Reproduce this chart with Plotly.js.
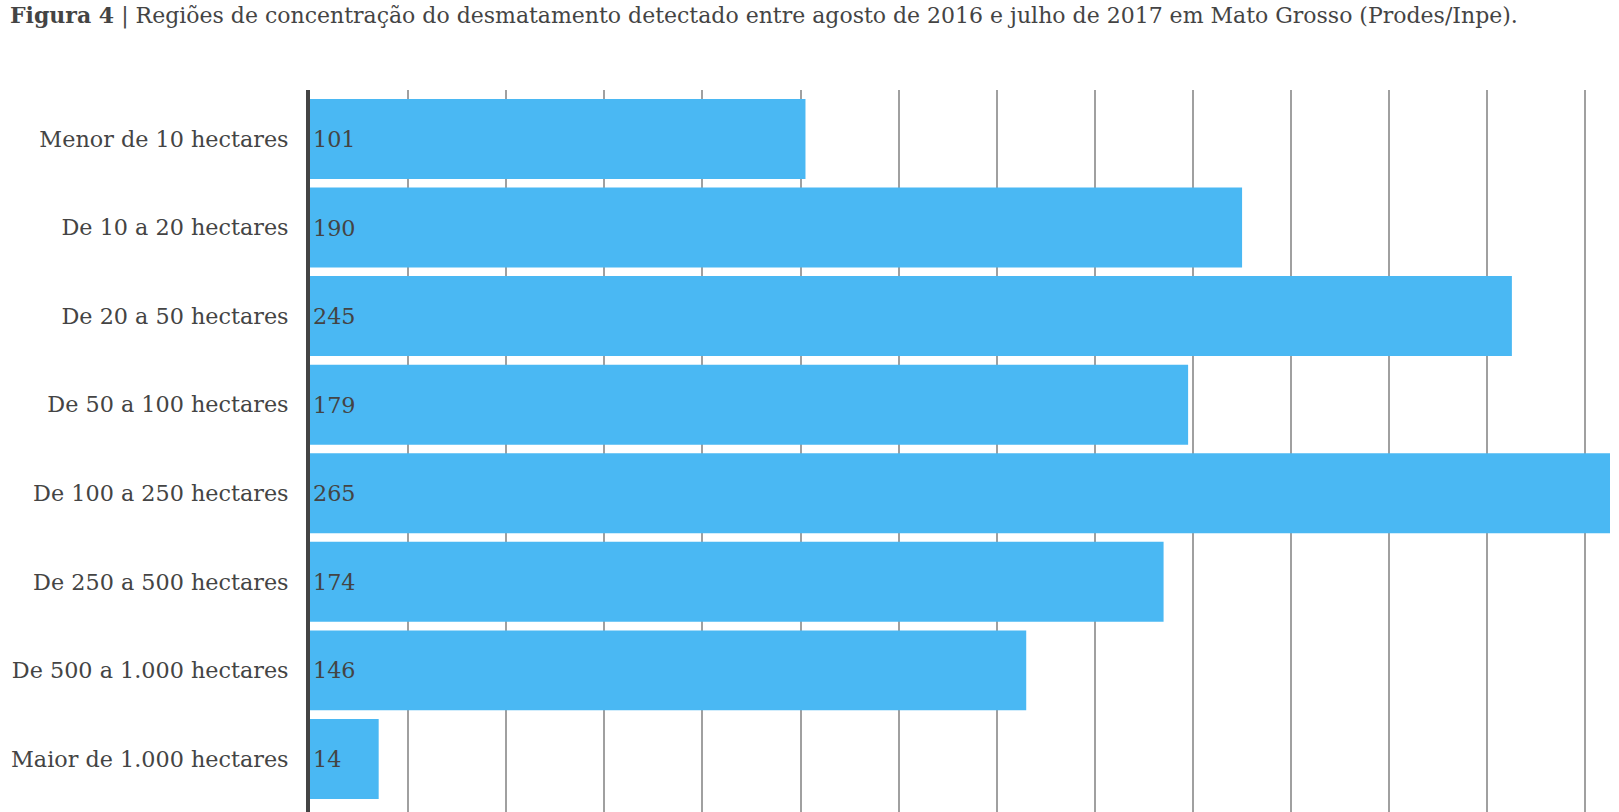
<!DOCTYPE html>
<html>
<head>
<meta charset="utf-8">
<script src="https://cdn.plot.ly/plotly-3.0.1.min.js"></script>
<style>html,body{margin:0;padding:0;background:#fff;}#chart{width:1619px;height:812px;}</style>
</head>
<body>
<div id="chart"></div>
<script>
var categories = ["Menor de 10 hectares","De 10 a 20 hectares","De 20 a 50 hectares","De 50 a 100 hectares","De 100 a 250 hectares","De 250 a 500 hectares","De 500 a 1.000 hectares","Maior de 1.000 hectares"];
var values = [101,190,245,179,265,174,146,14];
var gridTicks = [20,40,60,80,100,120,140,160,180,200,220,240,260];
var titleText = "<b>Figura 4</b> | Regiões de concentração do desmatamento detectado entre agosto de 2016 e julho de 2017 em Mato Grosso (Prodes/Inpe).";

var FONT = "DejaVu Serif, serif";
var trace = {
  type: "bar",
  orientation: "h",
  y: categories,
  x: values,
  text: values.map(String),
  textposition: "inside",
  insidetextanchor: "start",
  constraintext: "none",
  textfont: {family: FONT, size: 22.3, color: "#444"},
  marker: {color: "#4ab8f3", line: {width: 0}},
  hoverinfo: "none"
};
var layout = {
  width: 1619, height: 812,
  margin: {l: 310, r: 9, t: 90, b: 0},
  paper_bgcolor: "#fff", plot_bgcolor: "#fff",
  bargap: 0.097,
  showlegend: false,
  font: {family: FONT, color: "#444"},
  title: {
    text: titleText,
    font: {family: FONT, size: 22, color: "#444"},
    xref: "container", yref: "container",
    x: 10/1619, xanchor: "left",
    y: 1 - 15/812, yanchor: "middle"
  },
  xaxis: {
    range: [0, 265],
    tickvals: gridTicks,
    showticklabels: false,
    showgrid: true, gridcolor: "#a0a0a0", gridwidth: 2,
    zeroline: false, showline: false, ticks: ""
  },
  yaxis: {
    type: "category",
    range: [7.599, -0.553],
    showgrid: false, zeroline: false,
    showline: true, linecolor: "#444", linewidth: 4,
    ticks: "", ticklabelstandoff: 13,
    tickfont: {family: FONT, size: 22.3, color: "#444"}
  }
};
Plotly.newPlot("chart", [trace], layout, {displayModeBar: false, staticPlot: true});
</script>
</body>
</html>
